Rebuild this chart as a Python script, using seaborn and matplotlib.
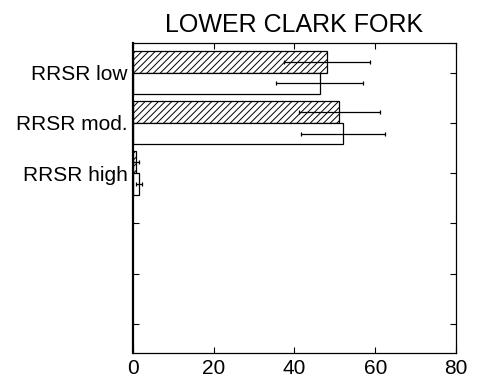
import matplotlib
matplotlib.use("Agg")
import matplotlib.pyplot as plt
import seaborn as sns
import pandas as pd

categories = ["RRSR low", "RRSR mod.", "RRSR high"]
groups = ["A", "B"]
values_a = [48.0, 51.1, 0.8]
errors_a = [10.7, 10.1, 0.8]
values_b = [46.2, 52.1, 1.5]
errors_b = [10.8, 10.4, 0.8]
xticks = [0, 20, 40, 60, 80]
title = "LOWER CLARK FORK"

sns.set_theme(style="white")
plt.rcParams["font.family"] = ["Liberation Sans", "DejaVu Sans"]
plt.rcParams["text.color"] = "black"
plt.rcParams["xtick.color"] = "black"
plt.rcParams["ytick.color"] = "black"
plt.rcParams["axes.labelcolor"] = "black"
plt.rcParams["hatch.linewidth"] = 0.7

rows = []
for c, v, e in zip(categories, values_a, errors_a):
    rows.append({"cat": c, "grp": groups[0], "val": v, "err": e})
for c, v, e in zip(categories, values_b, errors_b):
    rows.append({"cat": c, "grp": groups[1], "val": v, "err": e})
df = pd.DataFrame(rows)

fig = plt.figure(figsize=(4.8, 3.81), dpi=100)
ax = fig.add_axes([0.277, 0.0735, 0.673, 0.8125])

sns.barplot(data=df, y="cat", x="val", hue="grp", order=categories,
            hue_order=groups, orient="h", palette=["white", "white"],
            edgecolor="black", linewidth=0.9, width=0.86, errorbar=None,
            legend=False, ax=ax)

for gi, g in enumerate(groups):
    cont = ax.containers[gi]
    sub = df[df["grp"] == g].set_index("cat").loc[categories]
    for patch, (val, err) in zip(cont.patches, zip(sub["val"], sub["err"])):
        if gi == 0:
            patch.set_hatch("/////")
        yc = patch.get_y() + patch.get_height() / 2
        ax.errorbar(val, yc, xerr=err, fmt="none", ecolor="black",
                    elinewidth=0.9, capsize=1.6, capthick=0.9)

ax.set_xlim(0, 80)
ax.set_ylim(5.58, -0.58)
ax.set_xticks(xticks)
ax.set_xticklabels([str(t) for t in xticks], fontsize=15, color="black")
ax.set_yticks(range(6))
ax.set_yticklabels(categories + ["", "", ""], fontsize=15, color="black")
ax.set_xlabel("")
ax.set_ylabel("")
ax.tick_params(axis="both", direction="in", length=4, width=0.8,
               top=True, right=True, left=True, bottom=True, color="black")
ax.tick_params(axis="x", pad=4)
ax.tick_params(axis="y", pad=4)
for s in ax.spines.values():
    s.set_color("black")
    s.set_linewidth(0.9)
ax.spines["left"].set_linewidth(1.6)
ax.set_title(title, fontsize=18, pad=8, color="black")

fig.savefig("out.png", dpi=100)
